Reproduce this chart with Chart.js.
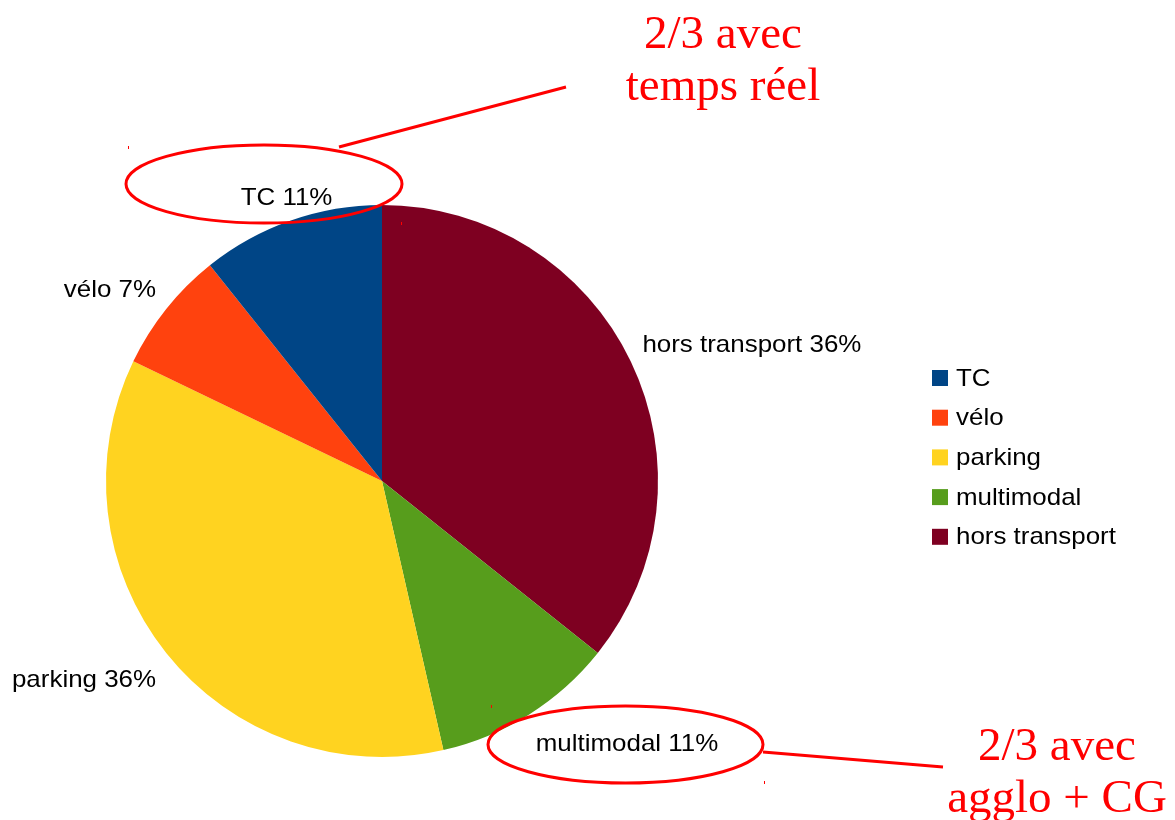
<!DOCTYPE html>
<html>
<head>
<meta charset="utf-8">
<script src="https://cdn.jsdelivr.net/npm/chart.js@4.4.1/dist/chart.umd.min.js"></script>
<style>
  html, body { margin: 0; padding: 0; background: #fff; }
  #wrap { width: 1175px; height: 820px; position: relative; }
</style>
</head>
<body>
<div id="wrap"><canvas id="pieChart" width="1175" height="820"></canvas></div>
<script>
// legend order (as in the original legend)
const categories = ['TC', 'vélo', 'parking', 'multimodal', 'hors transport'];
const counts = [3, 2, 10, 3, 10];
const colors = ['#004586', '#ff420e', '#ffd320', '#579d1c', '#7e0021'];

// red notes drawn over the chart
const noteTop = ['2/3 avec', 'temps réel'];
const noteBottom = ['2/3 avec', 'agglo + CG'];

const labelFont = '24px "Liberation Sans", Arial, sans-serif';
const noteFont = '47px "Liberation Serif", "Times New Roman", serif';
const stretch = 1.08; // labels in the original look a bit wide

// the pie runs the other way round from the legend
const pieLabels = categories.slice().reverse();
const pieCounts = counts.slice().reverse();
const pieColors = colors.slice().reverse();

const total = counts.reduce((a, b) => a + b, 0);

// draw text slightly stretched horizontally, anchored at x
function wideText(ctx, txt, x, y) {
    ctx.save();
    ctx.translate(x, y);
    ctx.scale(stretch, 1);
    ctx.fillText(txt, 0, 0);
    ctx.restore();
}

const overlay = {
    id: 'overlay',
    afterDraw(chart) {
        const ctx = chart.ctx;
        const meta = chart.getDatasetMeta(0);
        ctx.save();

        // slice labels, outside the pie
        ctx.font = labelFont;
        ctx.fillStyle = '#000';
        meta.data.forEach((arc, i) => {
            const mid = (arc.startAngle + arc.endAngle) / 2;
            const d = arc.outerRadius + 13;
            const upper = Math.sin(mid) < 0;
            const ax = arc.x + Math.cos(mid) * d;
            const ay = arc.y + Math.sin(mid) * d + (upper ? 2 : 7);
            const c = Math.cos(mid);
            ctx.textAlign = c > 0.4 ? 'left' : (c < -0.4 ? 'right' : 'center');
            ctx.textBaseline = upper ? 'bottom' : 'top';
            const pct = Math.round(pieCounts[i] / total * 100);
            wideText(ctx, pieLabels[i] + ' ' + pct + '%', ax, ay);
        });

        // legend
        ctx.textAlign = 'left';
        ctx.textBaseline = 'middle';
        categories.forEach((name, i) => {
            const y = 378 + i * 39.7;
            ctx.fillStyle = colors[i];
            ctx.fillRect(932, y - 8, 16, 16);
            ctx.fillStyle = '#000';
            wideText(ctx, name, 956, y + 1);
        });

        // red ellipses and pointers
        ctx.strokeStyle = '#ff0000';
        ctx.lineWidth = 3;
        ctx.beginPath();
        ctx.ellipse(264, 184, 138, 39, 0, 0, Math.PI * 2);
        ctx.stroke();
        ctx.beginPath();
        ctx.ellipse(625.5, 744.5, 137.5, 38.5, 0, 0, Math.PI * 2);
        ctx.stroke();
        ctx.beginPath();
        ctx.moveTo(339, 147);
        ctx.lineTo(566, 87);
        ctx.moveTo(763, 752);
        ctx.lineTo(943, 767);
        ctx.stroke();

        // tiny leftover handle marks
        ctx.lineWidth = 1;
        [[128, 146], [401, 222], [491, 705], [764, 781]].forEach(p => {
            ctx.beginPath();
            ctx.moveTo(p[0] + 0.5, p[1]);
            ctx.lineTo(p[0] + 0.5, p[1] + 3);
            ctx.stroke();
        });

        // red notes
        ctx.fillStyle = '#ff0000';
        ctx.font = noteFont;
        ctx.textAlign = 'center';
        ctx.textBaseline = 'alphabetic';
        ctx.fillText(noteTop[0], 723, 48);
        ctx.fillText(noteTop[1], 723, 100);
        ctx.fillText(noteBottom[0], 1057, 760);
        ctx.fillText(noteBottom[1], 1057, 812);

        ctx.restore();
    }
};

new Chart(document.getElementById('pieChart'), {
    type: 'pie',
    data: {
        labels: pieLabels,
        datasets: [{
            data: pieCounts,
            backgroundColor: pieColors,
            borderWidth: 0
        }]
    },
    options: {
        responsive: false,
        animation: false,
        layout: { padding: { left: 106, top: 205, right: 517, bottom: 63 } },
        plugins: {
            legend: { display: false },
            tooltip: { enabled: false }
        }
    },
    plugins: [overlay]
});
</script>
</body>
</html>
